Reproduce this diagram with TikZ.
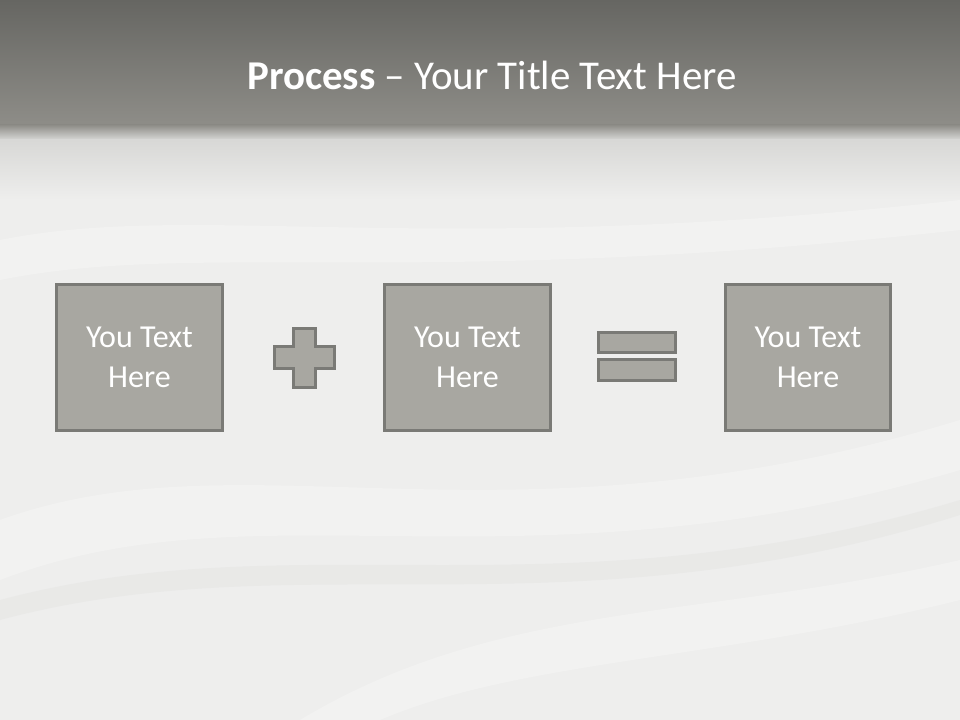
\documentclass[tikz,border=0pt]{standalone}
\usepackage{fontspec}
\setmainfont{Carlito}
\begin{document}
\begin{tikzpicture}[x=0.75pt,y=-0.75pt,
  boxst/.style={draw=boxline,fill=boxfill,line width=2.25pt,minimum width=124pt,minimum height=110pt,inner sep=0pt,text=white,font=\fontsize{24}{30}\selectfont,align=center},
  symst/.style={draw=boxline,fill=boxfill,line width=2.25pt}]
\definecolor{boxfill}{HTML}{A8A7A1}
\definecolor{boxline}{HTML}{7A7A76}
\definecolor{bandtop}{HTML}{666662}
\definecolor{bandbot}{HTML}{8E8D88}
\definecolor{bgfade}{HTML}{D8D8D6}
\definecolor{bg}{HTML}{EEEEED}
\definecolor{fold}{HTML}{E2E2E0}
\useasboundingbox (0,0) rectangle (960,720);
% background
\fill[bg] (0,0) rectangle (960,720);
\shade[top color=bandtop,bottom color=bandbot] (0,0) rectangle (960,125);
\shade[top color=bandbot,bottom color=bgfade] (0,125) rectangle (960,140);
\shade[top color=bgfade,bottom color=bg] (0,140) rectangle (960,200);
% soft satin folds
\begin{scope}[opacity=0.25]
\fill[white] (0,520) .. controls (250,430) and (500,560) .. (960,420) -- (960,470) .. controls (520,600) and (260,480) .. (0,580) -- cycle;
\fill[white] (300,720) .. controls (500,600) and (700,620) .. (960,560) -- (960,600) .. controls (720,660) and (520,660) .. (380,720) -- cycle;
\fill[white] (0,240) .. controls (200,200) and (420,260) .. (960,200) -- (960,230) .. controls (420,290) and (200,240) .. (0,280) -- cycle;
\end{scope}
\begin{scope}[opacity=0.4]
\fill[fold] (0,600) .. controls (300,520) and (560,620) .. (960,500) -- (960,515) .. controls (560,640) and (300,540) .. (0,620) -- cycle;
\end{scope}
% title
\node (title) at (492,75) {\fontsize{30.7}{37}\selectfont\color{white}\textbf{Process} -- Your Title Text Here};
% boxes
\node[boxst] (b1) at (139.5,357.5) {You Text\\Here};
\node[boxst] (b2) at (467.5,357.5) {You Text\\Here};
\node[boxst] (b3) at (808,357.5) {You Text\\Here};
% plus
\draw[symst] (293,328) -- (315,328) -- (315,346) -- (334,346) -- (334,368) -- (315,368) -- (315,387) -- (293,387) -- (293,368) -- (274,368) -- (274,346) -- (293,346) -- cycle;
% equals
\draw[symst] (598,332) rectangle (675,352);
\draw[symst] (598,359) rectangle (675,380);
\end{tikzpicture}
\end{document}
